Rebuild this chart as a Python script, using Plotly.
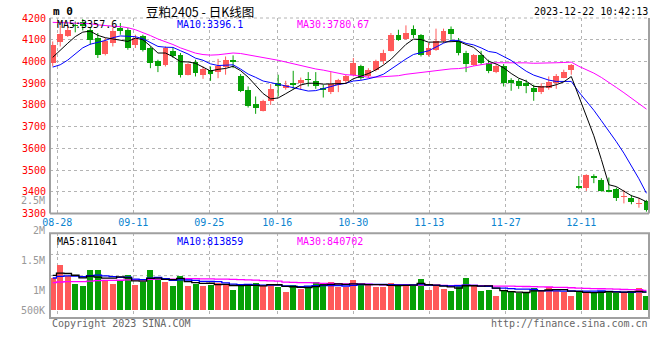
import plotly.graph_objects as go
import pandas as pd

# ---------------- data ----------------
tick_dates = ["08-28", "09-11", "09-25", "10-16", "10-30", "11-13", "11-27", "12-11"]

opens = [3993, 4088, 4118, 4166, 4180, 4146, 4108, 4034, 4085, 4154,
         4146, 4077, 4115, 4062, 4000, 3985, 4046, 4031, 3939, 3997,
         3939, 3962, 3951, 3973, 4008, 3934, 3870, 3804, 3773, 3819,
         3899, 3880, 3900, 3899, 3919, 3911, 3880, 3859, 3890, 3908,
         3939, 3980, 3931, 3962, 4000, 4049, 4123, 4105, 4151, 4120,
         4028, 4054, 4092, 4151, 4092, 4039, 3985, 4028, 3993, 3951,
         3977, 3916, 3911, 3900, 3880, 3859, 3880, 3900, 3926, 3962,
         3427, 3420, 3473, 3455, 3409, 3413, 3375, 3373, 3345, 3358]
highs = [4092, 4165, 4165, 4184, 4195, 4154, 4131, 4108, 4154, 4177,
         4154, 4123, 4123, 4069, 4008, 4069, 4065, 4039, 3992, 4008,
         3977, 3977, 4012, 4023, 4028, 3942, 3885, 3839, 3824, 3896,
         3939, 3911, 3957, 3926, 3951, 3951, 3893, 3951, 3920, 3939,
         4016, 3985, 3969, 4008, 4054, 4131, 4146, 4166, 4166, 4126,
         4085, 4151, 4151, 4161, 4108, 4049, 4034, 4049, 4008, 3988,
         3988, 3923, 3920, 3916, 3893, 3900, 3931, 3942, 3962, 3988,
         3473, 3481, 3481, 3463, 3466, 3420, 3409, 3386, 3373, 3363]
lows = [3977, 4069, 4113, 4134, 4143, 4077, 4016, 4028, 4069, 4123,
        4054, 4062, 4046, 3969, 3951, 3977, 4016, 3926, 3936, 3931,
        3920, 3911, 3923, 3939, 3969, 3859, 3788, 3759, 3770, 3800,
        3839, 3870, 3874, 3870, 3885, 3874, 3834, 3850, 3859, 3900,
        3931, 3916, 3923, 3954, 3988, 4046, 4095, 4100, 4108, 4023,
        4023, 4049, 4085, 4095, 4028, 3951, 3980, 3985, 3946, 3946,
        3885, 3865, 3874, 3854, 3819, 3850, 3870, 3874, 3923, 3939,
        3412, 3404, 3440, 3401, 3398, 3358, 3347, 3343, 3327, 3309]
closes = [4077, 4128, 4146, 4163, 4161, 4100, 4031, 4092, 4138, 4138,
          4062, 4108, 4054, 3993, 3977, 4062, 4023, 3939, 3988, 3946,
          3966, 3942, 3977, 4008, 3996, 3865, 3793, 3788, 3819, 3874,
          3887, 3890, 3893, 3914, 3916, 3885, 3870, 3896, 3913, 3931,
          3992, 3923, 3962, 4000, 4039, 4123, 4100, 4131, 4120, 4031,
          4062, 4095, 4141, 4126, 4039, 3988, 4031, 3993, 3954, 3977,
          3900, 3900, 3885, 3885, 3859, 3885, 3905, 3931, 3951, 3982,
          3416, 3478, 3463, 3406, 3401, 3373, 3380, 3352, 3350, 3317]
volumes = [1048000, 1272000, 1086000, 951000, 906000, 1188000, 1188000, 1007000, 951000, 1007000,
           1103000, 934000, 990000, 1188000, 1030000, 990000, 917000, 1086000, 917000, 951000,
           917000, 934000, 963000, 951000, 850000, 906000, 951000, 973000, 906000, 951000,
           895000, 821000, 934000, 862000, 917000, 985000, 963000, 985000, 889000, 889000,
           1019000, 951000, 934000, 889000, 889000, 968000, 934000, 951000, 906000, 1036000,
           850000, 906000, 867000, 833000, 934000, 1053000, 906000, 838000, 850000, 740000,
           850000, 821000, 790000, 821000, 878000, 850000, 895000, 825000, 820000, 745000,
           830000, 810000, 810000, 830000, 810000, 800000, 800000, 830000, 880000, 745000]
# sessions before the visible window (estimated from where the MA lines start)
prior_closes = [4150, 4170, 4185, 4200, 4180, 4195, 4210, 4200, 4190, 4220,
                4380, 4420, 4440, 4450, 4430, 4420, 4400, 4360, 4300, 4160,
                4020, 3930, 3880, 3880, 3935, 3960, 3990, 4010, 4058]
prior_volumes = [900000, 950000, 880000, 920000, 960000, 940000, 900000, 910000, 950000, 930000,
                 920000, 960000, 940000, 900000, 930000, 950000, 920000, 940000, 930000, 970000,
                 980000, 1020000, 990000, 1010000, 1025000, 1080000, 1120000, 1100000, 1127000]

# ---------------- styling ----------------
RED = "#ff5a5a"
GREEN = "#06a006"
MONO = "DejaVu Sans Mono"
W, H = 660, 360
ML, MR, MT, MB = 50, 11, 18, 42
PW, PH = W - ML - MR, H - MT - MB
XR = [-0.36, 79.34]
date_tick_px = [57.3, 133.3, 209.3, 277.3, 353.3, 429.3, 505.7, 581.3]
px_per_unit = PW / (XR[1] - XR[0])
tick_pos = [XR[0] + (p - ML) / px_per_unit for p in date_tick_px]

def fx(px):
    return (px - ML) / PW

def fy(py):
    return (MT + PH - py) / PH

PRICE_DOM = [fy(213.6), 1.0]
VOL_DOM = [0.0, fy(233.3)]
VOL_BASE = 500000
VOL_RANGE = [371600, 1808000]

n = len(closes)
xs = list(range(n))
up = [c >= o for o, c in zip(opens, closes)]
colors = [RED if u else GREEN for u in up]

cs = pd.Series(prior_closes + closes, dtype=float)
vs = pd.Series(prior_volumes + volumes, dtype=float)
ma = {w: cs.rolling(w).mean().iloc[-n:].tolist() for w in (5, 10, 30)}
vma = {w: vs.rolling(w).mean().iloc[-n:].tolist() for w in (5, 10, 30)}

fig = go.Figure()

# wicks
for col, flag in ((RED, True), (GREEN, False)):
    wx, wy = [], []
    for i in xs:
        if up[i] == flag:
            wx += [i, i, None]
            wy += [lows[i], highs[i], None]
    fig.add_trace(go.Scatter(x=wx, y=wy, mode="lines", line=dict(color=col, width=1),
                             hoverinfo="skip", showlegend=False, xaxis="x", yaxis="y"))

# bodies
body_base = [min(o, c) for o, c in zip(opens, closes)]
body_h = [max(abs(c - o), 5) for o, c in zip(opens, closes)]
fig.add_trace(go.Bar(x=xs, y=body_h, base=body_base, width=0.78,
                     marker=dict(color=colors, line=dict(width=0)),
                     showlegend=False, xaxis="x", yaxis="y"))

# price MAs
for w, col in ((30, "#ff00ff"), (10, "#0000ff"), (5, "#000000")):
    fig.add_trace(go.Scatter(x=xs, y=ma[w], mode="lines", line=dict(color=col, width=1),
                             showlegend=False, hoverinfo="skip", xaxis="x", yaxis="y"))

# volume bars
fig.add_trace(go.Bar(x=xs, y=[v - VOL_BASE for v in volumes], base=VOL_BASE, width=0.8,
                     marker=dict(color=colors, line=dict(width=0)),
                     showlegend=False, xaxis="x2", yaxis="y2"))
for w, col in ((30, "#ff00ff"), (10, "#0000ff"), (5, "#000000")):
    fig.add_trace(go.Scatter(x=xs, y=vma[w], mode="lines", line=dict(color=col, width=1.3, shape="hvh"),
                             showlegend=False, hoverinfo="skip", xaxis="x2", yaxis="y2"))

GRID = "#b4b4b4"
FRAME = "#a0a0a0"

fig.update_layout(
    width=W, height=H, margin=dict(l=ML, r=MR, t=MT, b=MB),
    paper_bgcolor="white", plot_bgcolor="white", barmode="overlay", bargap=0,
    font=dict(family=MONO, size=10, color="#000"), hovermode=False,
    xaxis=dict(domain=[0, 1], anchor="y", range=XR, tickmode="array", tickvals=tick_pos,
               ticktext=tick_dates, tickfont=dict(family=MONO, size=10, color="#0a84d0"),
               showgrid=True, gridcolor=GRID, griddash="dot", gridwidth=1,
               zeroline=False, showline=False, ticks="", ticklabelstandoff=1),
    yaxis=dict(domain=PRICE_DOM, anchor="x", range=[3300, 4200], tickmode="linear", tick0=3300, dtick=100,
               tickfont=dict(family=MONO, size=10, color="#ff0000"), showgrid=True, gridcolor=GRID,
               griddash="dot", zeroline=False, showline=False, ticks="", ticklabelstandoff=3),
    xaxis2=dict(domain=[0, 1], anchor="y2", range=XR, matches="x", tickmode="array", tickvals=tick_pos,
                showticklabels=False, showgrid=True, gridcolor=GRID, griddash="dot",
                zeroline=False, showline=False, ticks=""),
    yaxis2=dict(domain=VOL_DOM, anchor="x2", range=VOL_RANGE, showticklabels=False, showgrid=False,
                zeroline=False, showline=False, ticks=""),
)

shapes = []
# volume panel horizontal dotted grid
for f in (0.5, 0.75):
    shapes.append(dict(type="line", xref="x2 domain", yref="y2 domain", x0=0, x1=1, y0=f, y1=f,
                       line=dict(color=GRID, width=1, dash="dot"), layer="below"))
# frames
shapes += [
    dict(type="line", xref="paper", yref="paper", x0=0, x1=1, y0=1, y1=1, line=dict(color=GRID, width=1, dash="dot")),
    dict(type="line", xref="paper", yref="paper", x0=0, x1=1, y0=PRICE_DOM[0], y1=PRICE_DOM[0], line=dict(color=FRAME, width=2)),
    dict(type="line", xref="paper", yref="paper", x0=0, x1=0, y0=PRICE_DOM[0], y1=1, line=dict(color=FRAME, width=2)),
    dict(type="line", xref="paper", yref="paper", x0=1, x1=1, y0=PRICE_DOM[0], y1=1, line=dict(color=FRAME, width=2)),
    dict(type="rect", xref="paper", yref="paper", x0=0, x1=1, y0=VOL_DOM[0], y1=VOL_DOM[1], line=dict(color=FRAME, width=2)),
]
fig.update_layout(shapes=shapes)

ann = []
def text(px, py, s, color="#000", anchor="left", size=10, family=MONO):
    ann.append(dict(xref="paper", yref="paper", x=fx(px), y=fy(py), text=s, showarrow=False,
                    xanchor=anchor, yanchor="middle", font=dict(family=family, size=size, color=color)))

text(51, 12, "<b>m 0</b>", size=11)
text(200, 11.5, "豆粕2405 - 日K线图", anchor="center", size=12.5, family="Noto Sans CJK SC")
text(649.5, 12, "2023-12-22 10:42:13", anchor="right")
text(55, 24.5, "MA5:3357.6")
text(175, 24.5, "MA10:3396.1", color="#0000ff")
text(295, 24.5, "MA30:3780.67", color="#ff00ff")
text(55, 241, "MA5:811041")
text(175, 241, "MA10:813859", color="#0000ff")
text(295, 241, "MA30:840702", color="#ff00ff")
for py, s in ((200, "2.5M"), (230.7, "2M"), (260.7, "1.5M"), (290.7, "1M"), (310.7, "500K")):
    text(46.7, py, s, color="#999999", anchor="right")
text(50, 323.5, "Copyright 2023 SINA.COM", color="#666666")
text(649.5, 323.5, "http://finance.sina.com.cn", color="#666666", anchor="right")
fig.update_layout(annotations=ann)

fig.write_html("out.html", config={"displayModeBar": False, "staticPlot": True},
               post_script="document.body.style.margin='0';document.body.style.overflow='hidden';")
